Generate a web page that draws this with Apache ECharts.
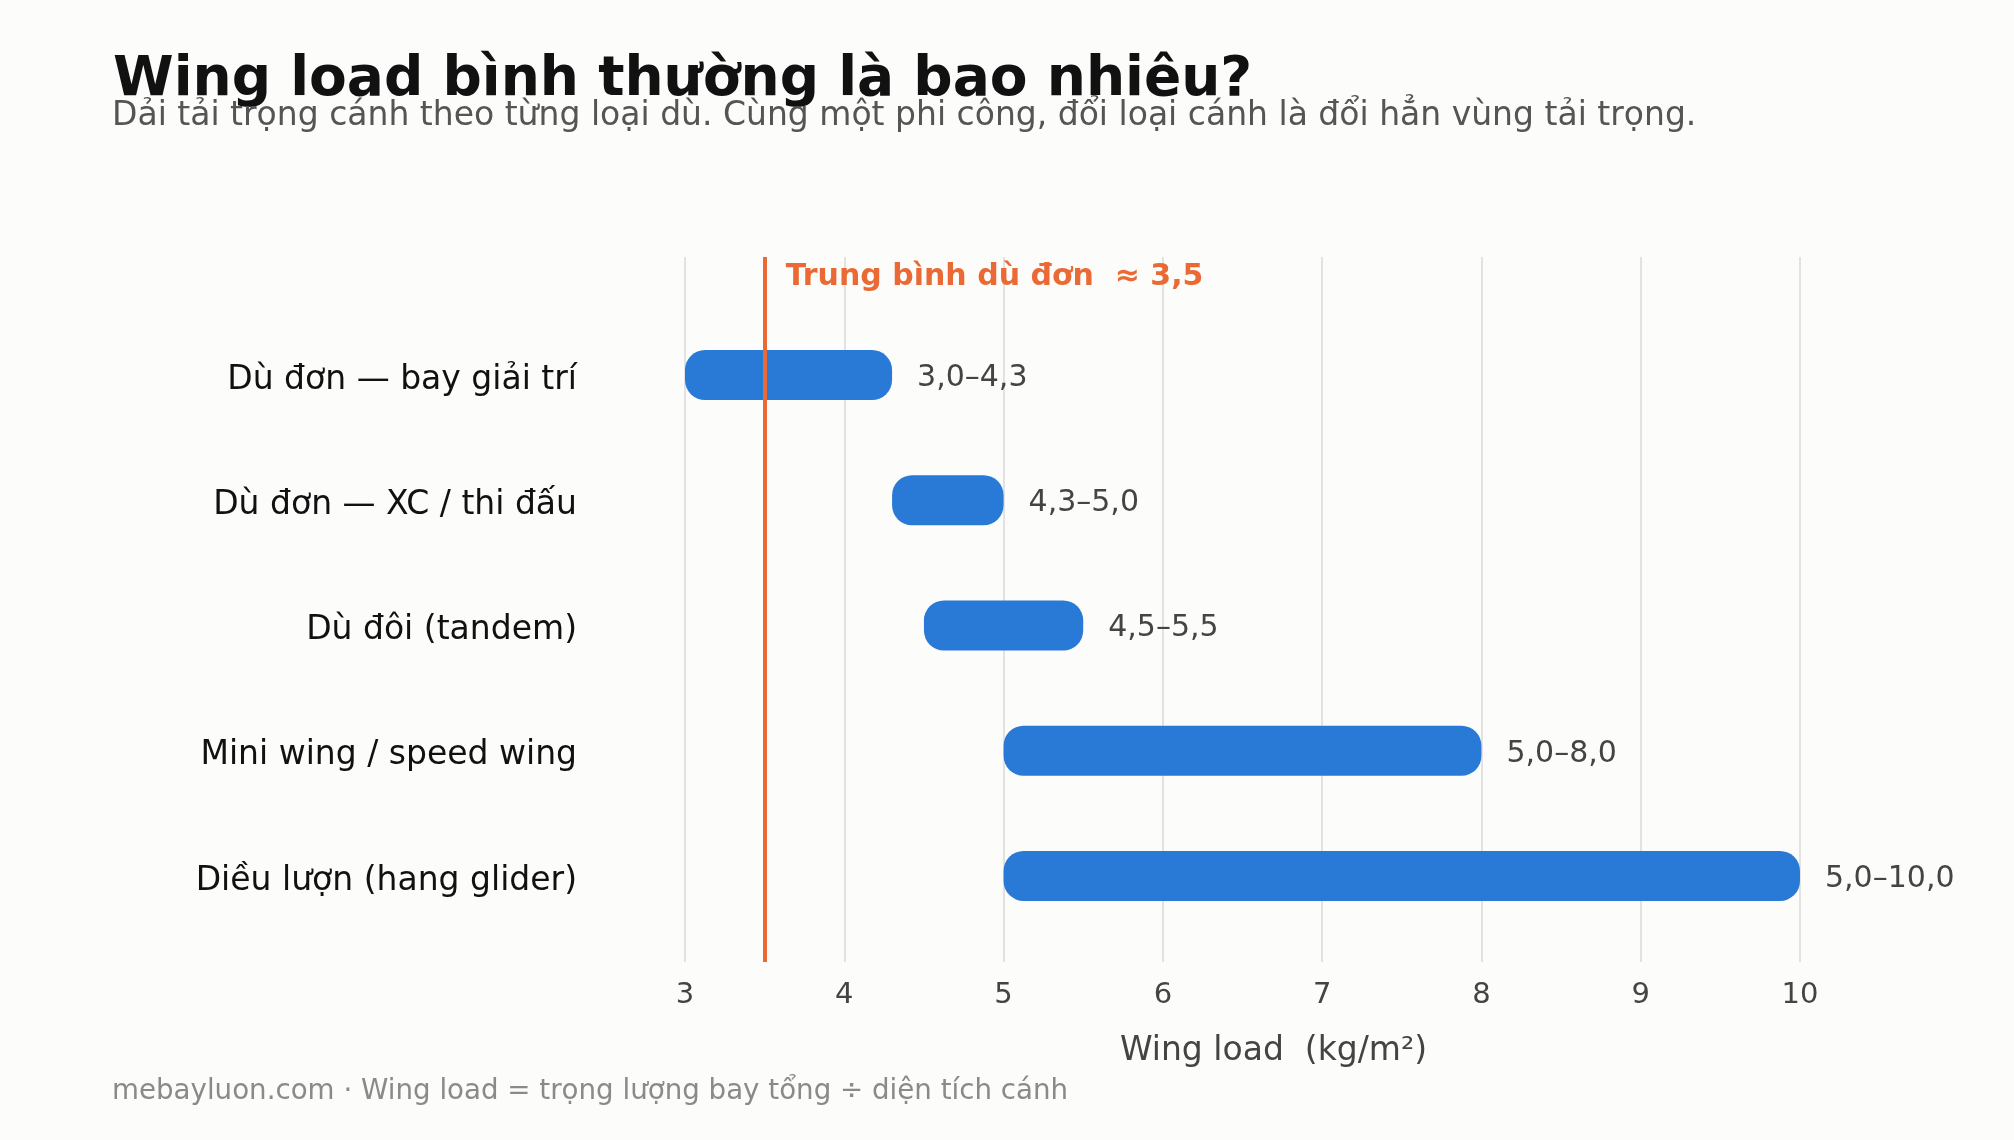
<!DOCTYPE html>
<html>
<head>
<meta charset="utf-8">
<script src="https://cdn.jsdelivr.net/npm/echarts@6/dist/echarts.min.js"></script>
<style>
  html, body { margin: 0; padding: 0; background: #fcfcfa; }
  #chart { width: 2014px; height: 1140px; }
</style>
</head>
<body>
<div id="chart"></div>
<script>
var categories = ['Dù đơn — bay giải trí', 'Dù đơn — XC / thi đấu', 'Dù đôi (tandem)', 'Mini wing / speed wing', 'Diều lượn (hang glider)'];
var lowData = [3.0, 4.3, 4.5, 5.0, 5.0];
var highData = [4.3, 5.0, 5.5, 8.0, 10.0];
var meanSolo = 3.5;
var meanLabel = 'Trung bình dù đơn  ≈ 3,5';

var fontFamily = 'DejaVu Sans';
var blue = '#2979d6';
var orange = '#ea6934';

function fmt(v) {
    return v.toFixed(1).replace('.', ',');
}

var spanData = highData.map(function (h, i) {
    return +(h - lowData[i]).toFixed(2);
});

var myChart = echarts.init(document.getElementById('chart'));

var option = {
    backgroundColor: '#fcfcfa',
    animation: false,
    title: [{
        text: 'Wing load bình thường là bao nhiêu?',
        left: 108,
        top: 48,
        textStyle: { fontFamily: fontFamily, fontSize: 55, fontWeight: 'bold', color: '#111' }
    }, {
        text: 'Dải tải trọng cánh theo từng loại dù. Cùng một phi công, đổi loại cánh là đổi hẳn vùng tải trọng.',
        left: 107,
        top: 95,
        textStyle: { fontFamily: fontFamily, fontSize: 33, fontWeight: 'normal', color: '#555' }
    }, {
        text: 'mebayluon.com · Wing load = trọng lượng bay tổng ÷ diện tích cánh',
        left: 107,
        top: 1073,
        textStyle: { fontFamily: fontFamily, fontSize: 27.7, fontWeight: 'normal', color: '#8a8a8a' }
    }],
    grid: [{
        left: 685, right: 214, top: 257, bottom: 178
    }, {
        left: 685, right: 214, top: 312.4, bottom: 201.4
    }],
    xAxis: [{
        gridIndex: 0,
        type: 'value',
        min: 3,
        max: 10,
        interval: 1,
        axisLine: { show: false },
        axisTick: { show: false },
        splitLine: { show: true, lineStyle: { color: '#e2e2e0', width: 2 } },
        axisLabel: { fontFamily: fontFamily, fontSize: 29, color: '#444', margin: 19 },
        name: 'Wing load  (kg/m²)',
        nameLocation: 'middle',
        nameGap: 73,
        nameTextStyle: { fontFamily: fontFamily, fontSize: 33, color: '#444', padding: [0, 0, 0, 62] }
    }, {
        gridIndex: 1,
        type: 'value',
        min: 3,
        max: 10,
        show: false
    }],
    yAxis: [{
        gridIndex: 0,
        type: 'value',
        min: 0,
        max: 1,
        show: false
    }, {
        gridIndex: 1,
        type: 'category',
        inverse: true,
        data: categories,
        axisLine: { show: false },
        axisTick: { show: false },
        splitLine: { show: false },
        axisLabel: {
            margin: 108,
            formatter: function (v) { return '{c|' + v + '}'; },
            rich: {
                c: { fontFamily: fontFamily, fontSize: 33, color: '#111', padding: [10, 0, 0, 0] }
            }
        }
    }],
    series: [{
        name: 'base',
        type: 'bar',
        xAxisIndex: 1,
        yAxisIndex: 1,
        stack: 'range',
        barWidth: 50,
        silent: true,
        itemStyle: { color: 'transparent' },
        data: lowData
    }, {
        name: 'range',
        type: 'bar',
        xAxisIndex: 1,
        yAxisIndex: 1,
        stack: 'range',
        barWidth: 50,
        itemStyle: { color: blue, borderRadius: 20 },
        label: {
            show: true,
            position: 'right',
            distance: 25,
            offset: [0, 3],
            fontFamily: fontFamily,
            fontSize: 30,
            color: '#444',
            formatter: function (p) {
                return fmt(lowData[p.dataIndex]) + '–' + fmt(highData[p.dataIndex]);
            }
        },
        data: spanData
    }, {
        name: 'mean',
        type: 'line',
        xAxisIndex: 0,
        yAxisIndex: 0,
        data: [],
        markLine: {
            silent: true,
            symbol: 'none',
            lineStyle: { color: orange, width: 4, type: 'solid' },
            label: { show: false },
            data: [{ xAxis: meanSolo }]
        },
        markPoint: {
            silent: true,
            symbol: 'circle',
            symbolSize: 0,
            label: {
                show: true,
                position: 'right',
                distance: 21,
                fontFamily: fontFamily,
                fontSize: 30,
                fontWeight: 'bold',
                color: orange,
                formatter: meanLabel
            },
            data: [{ coord: [meanSolo, 0.972] }]
        }
    }]
};

myChart.setOption(option);
</script>
</body>
</html>
